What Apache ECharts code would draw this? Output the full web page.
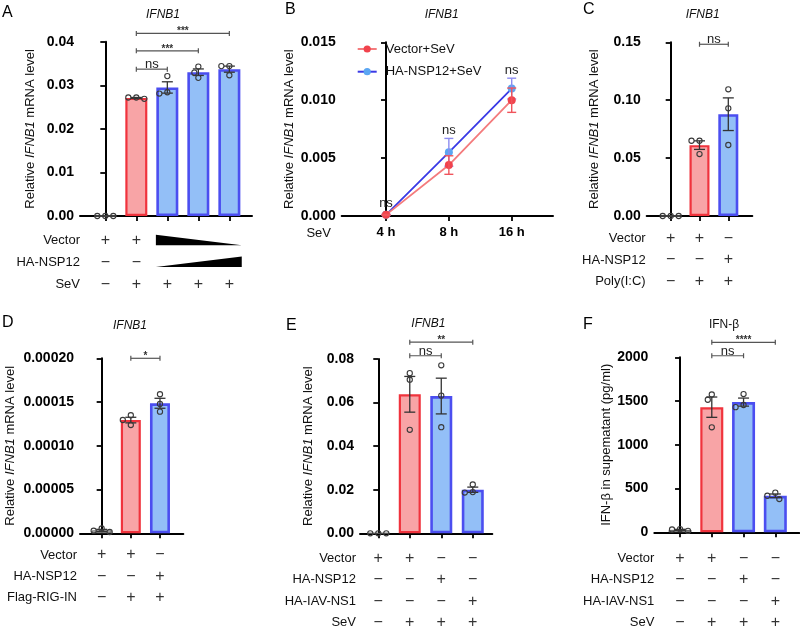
<!DOCTYPE html>
<html><head><meta charset="utf-8">
<script src="https://cdn.jsdelivr.net/npm/echarts@6/dist/echarts.min.js"></script>
<style>html,body{margin:0;padding:0;background:#fff}#c{width:800px;height:629px}</style>
</head><body><div id="c"></div>
<script>
const FONT = '"Liberation Sans", Arial, Helvetica, sans-serif';

// ---------- Panel A ----------
const aMeans = [0, 0.0271, 0.0295, 0.0330, 0.0337];
const aSem = [0, 0.0001, 0.0013, 0.00075, 0.0007];
const aPoints = [[0, 0, 0], [0.0272, 0.0272, 0.0269], [0.0321, 0.0284, 0.0281], [0.0343, 0.0329, 0.0317], [0.0344, 0.0344, 0.0323]];
const aRowLabels = ['Vector', 'HA-NSP12', 'SeV'];
const aRowVector = ['+', '+', '>', '>', '>'];
const aRowNsp12 = ['−', '−', '<', '<', '<'];
const aRowSev = ['−', '+', '+', '+', '+'];
const aBrackets = [[1, 2, 'ns', 0.0337], [1, 3, '***', 0.0379], [1, 4, '***', 0.0419]];

// ---------- Panel B ----------
const bTimes = ['4 h', '8 h', '16 h'];
const bVectorMean = [0.0001, 0.0044, 0.0100];
const bVectorSem = [0.00004, 0.0008, 0.00105];
const bNspMean = [0.0001, 0.0055, 0.0110];
const bNspSem = [0.00004, 0.0012, 0.0009];
const bSig = ['ns', 'ns', 'ns'];

// ---------- Panel C ----------
const cMeans = [0, 0.0612, 0.0879];
const cSem = [0, 0.0037, 0.0141];
const cPoints = [[0, 0, 0], [0.0650, 0.0650, 0.0535], [0.1094, 0.0930, 0.0613]];
const cRowLabels = ['Vector', 'HA-NSP12', 'Poly(I:C)'];
const cRowVector = ['+', '+', '−'];
const cRowNsp12 = ['−', '−', '+'];
const cRowPolyIC = ['−', '+', '+'];
const cBrackets = [[1, 2, 'ns', 0.1483]];

// ---------- Panel D ----------
const dMeans = [0.0000033, 0.0001294, 0.0001486];
const dSem = [0.0000012, 0.0000032, 0.0000057];
const dPoints = [[0.0000055, 0.000003, 0.0000015], [0.0001349, 0.0001295, 0.0001238], [0.0001589, 0.0001478, 0.000139]];
const dRowLabels = ['Vector', 'HA-NSP12', 'Flag-RIG-IN'];
const dRowVector = ['+', '+', '−'];
const dRowNsp12 = ['−', '−', '+'];
const dRowRigIN = ['−', '+', '+'];
const dBrackets = [[1, 2, '*', 0.0002]];

// ---------- Panel E ----------
const eMeans = [0, 0.0638, 0.0630, 0.0200];
const eSem = [0, 0.0082, 0.0082, 0.0012];
const ePoints = [[0, 0, 0], [0.0735, 0.0705, 0.0475], [0.0771, 0.0632, 0.0487], [0.0224, 0.0189, 0.0187]];
const eRowLabels = ['Vector', 'HA-NSP12', 'HA-IAV-NS1', 'SeV'];
const eRowVector = ['+', '+', '−', '−'];
const eRowNsp12 = ['−', '−', '+', '−'];
const eRowNs1 = ['−', '−', '−', '+'];
const eRowSev = ['−', '+', '+', '+'];
const eBrackets = [[1, 2, 'ns', 0.0815], [1, 3, '**', 0.0877]];

// ---------- Panel F ----------
const fMeans = [28, 1430, 1488, 417];
const fSem = [6, 116, 46, 21];
const fPoints = [[36, 32, 16], [1575, 1515, 1200], [1580, 1455, 1430], [453, 418, 380]];
const fRowLabels = ['Vector', 'HA-NSP12', 'HA-IAV-NS1', 'SeV'];
const fRowVector = ['+', '+', '−', '−'];
const fRowNsp12 = ['−', '−', '+', '−'];
const fRowNs1 = ['−', '−', '−', '+'];
const fRowSev = ['−', '+', '+', '+'];
const fBrackets = [[1, 2, 'ns', 2018], [1, 3, '****', 2171]];

// ---------- layout (pixels) ----------
const LAYOUT = [
  {left: 80, top: 41.7, width: 172, height: 174.3, xmin: -0.816, xmax: 4.73, barWidth: 22, nameGap: 43.5, rowStart: 24.7, rowStep: 21.8, labelDx: 0},
  {left: 341.7, top: 42.3, width: 211.3, height: 173.7, xmin: -0.705, xmax: 2.657, nameGap: 46},
  {left: 646.7, top: 42.3, width: 105.6, height: 173.7, xmin: -0.833, xmax: 2.833, barWidth: 20, nameGap: 46, rowStart: 22.3, rowStep: 21.7, labelDx: -1},
  {left: 80, top: 358.3, width: 103.3, height: 175, xmin: -0.743, xmax: 2.80, barWidth: 20, nameGap: 63.5, rowStart: 21.7, rowStep: 21.2, labelDx: -3},
  {left: 360, top: 359, width: 132.3, height: 174.3, xmin: -0.58, xmax: 3.62, barWidth: 22, nameGap: 45, rowStart: 25, rowStep: 21.5, labelDx: -4},
  {left: 654.3, top: 357.3, width: 145, height: 175, xmin: -0.81, xmax: 3.755, barWidth: 23, nameGap: 40, rowStart: 26, rowStep: 21.5, labelDx: 0}
];
const LETTERS = [['A', 2, 12.3], ['B', 285, 9.5], ['C', 583, 9.5], ['D', 2, 322.5], ['E', 286, 325.3], ['F', 583, 325]];
const TITLES = [['IFNB1', 163, 14.7, true], ['IFNB1', 441.7, 14.7, true], ['IFNB1', 702.7, 14.7, true],
  ['IFNB1', 130, 326, true], ['IFNB1', 428.3, 323.8, true], ['IFN-β', 724, 325, false]];

const YAXES = [
  {max: 0.04, interval: 0.01, decimals: 2, name: 'Relative {i|IFNB1} mRNA level'},
  {max: 0.015, interval: 0.005, decimals: 3, name: 'Relative {i|IFNB1} mRNA level'},
  {max: 0.15, interval: 0.05, decimals: 2, name: 'Relative {i|IFNB1} mRNA level'},
  {max: 0.0002, interval: 0.00005, decimals: 5, name: 'Relative {i|IFNB1} mRNA level'},
  {max: 0.08, interval: 0.02, decimals: 2, name: 'Relative {i|IFNB1} mRNA level'},
  {max: 2000, interval: 500, decimals: 0, name: 'IFN-β in supematant (pg/ml)'}
];

const RED_FILL = '#F8A4A6', RED_LINE = '#F0333D', BLUE_FILL = '#93BFF7', BLUE_LINE = '#4B4EF0';

function T(x, y, text, o) {
  o = o || {};
  const align = o.align || 'center', va = o.va || 'middle';
  return {type: 'text', x: x, y: y, z2: 10, style: {
    text: text, fill: o.fill || '#111', fontFamily: FONT, fontSize: o.size || 13,
    fontStyle: o.style || 'normal', fontWeight: o.weight || 'normal',
    align: align, textAlign: align, verticalAlign: va, textVerticalAlign: va}};
}
function L(x1, y1, x2, y2, color, w) {
  return {type: 'line', shape: {x1: x1, y1: y1, x2: x2, y2: y2}, style: {stroke: color || '#333', lineWidth: w || 1.2}};
}
function barStyle(i) {
  if (i === 0) return {color: '#cfcfcf', borderColor: '#555', borderWidth: 1};
  if (i === 1) return {color: RED_FILL, borderColor: RED_LINE, borderWidth: 2.2};
  return {color: BLUE_FILL, borderColor: BLUE_LINE, borderWidth: 2.6};
}

const grids = [], xAxes = [], yAxes = [], series = [];
LAYOUT.forEach((Lo, g) => {
  grids.push({left: Lo.left, top: Lo.top, width: Lo.width, height: Lo.height, containLabel: false});
  const Y = YAXES[g];
  const nTicks = g === 1 ? bTimes.length : [aMeans, null, cMeans, dMeans, eMeans, fMeans][g].length;
  const ticks = Array.from({length: nTicks}, (_, i) => i);
  xAxes.push({
    type: 'value', gridIndex: g, min: Lo.xmin, max: Lo.xmax,
    axisLine: {show: true, onZero: false, lineStyle: {color: '#000', width: 2}},
    axisTick: {show: true, customValues: ticks, length: 5, lineStyle: {color: '#000', width: 1.8}},
    axisLabel: g === 1 ? {show: true, customValues: ticks, formatter: v => bTimes[Math.round(v)],
      color: '#000', fontWeight: 'bold', fontSize: 13, fontFamily: FONT, margin: 10} : {show: false},
    splitLine: {show: false},
    name: g === 1 ? 'SeV' : '', nameLocation: 'start', nameGap: 10.7,
    nameTextStyle: {color: '#111', fontSize: 13, fontFamily: FONT, verticalAlign: 'top', padding: [11, 0, 0, 0]}
  });
  yAxes.push({
    type: 'value', gridIndex: g, min: 0, max: Y.max, interval: Y.interval,
    axisLine: {show: true, lineStyle: {color: '#000', width: 2}},
    axisTick: {show: true, length: 5, lineStyle: {color: '#000', width: 1.8}},
    axisLabel: {color: '#000', fontWeight: 'bold', fontSize: 14, fontFamily: FONT, margin: 6,
      formatter: v => v.toFixed(Y.decimals)},
    splitLine: {show: false},
    name: Y.name, nameLocation: 'middle', nameGap: Lo.nameGap, nameRotate: 90,
    nameTextStyle: {color: '#111', fontSize: 13, fontFamily: FONT,
      rich: {i: {fontStyle: 'italic', fontSize: 13, fontFamily: FONT, color: '#111'}}}
  });
});

function barPanel(g, means, sem, points, rowLabels, rows, brackets) {
  const Lo = LAYOUT[g];
  series.push({
    type: 'bar', xAxisIndex: g, yAxisIndex: g, barWidth: Lo.barWidth, z: 2, silent: true,
    data: means.map((v, i) => ({value: [i, v], itemStyle: barStyle(i)}))
  });
  // error bars (mean ± SEM)
  series.push({
    type: 'custom', xAxisIndex: g, yAxisIndex: g, z: 4, clip: false, silent: true,
    data: means.map((v, i) => [i, v]),
    renderItem: (params, api) => {
      const i = params.dataIndex, m = means[i], e = sem[i];
      const top = api.coord([i, m + e]), bot = api.coord([i, Math.max(0, m - e)]);
      const hw = 5.5;
      return {type: 'group', children: e ? [
        L(top[0], top[1], bot[0], bot[1], '#333', 1.3),
        L(top[0] - hw, top[1], top[0] + hw, top[1], '#333', 1.3),
        L(bot[0] - hw, bot[1], bot[0] + hw, bot[1], '#333', 1.3)] : []};
    }
  });
  // individual replicate dots
  series.push({
    type: 'custom', xAxisIndex: g, yAxisIndex: g, z: 5, clip: false, silent: true,
    data: points.map((p, i) => [i, p[0]]),
    renderItem: (params, api) => {
      const i = params.dataIndex;
      const cx = api.coord([i, 0])[0];
      const placed = [], children = [];
      const cands = [0, -4, 4, -8, 8, -12, 12];
      points[i].forEach(v => {
        const y = api.coord([i, v])[1];
        let dx = 0;
        for (let k = 0; k < cands.length; k++) {
          const c = cands[k];
          if (placed.every(p => Math.hypot(p[0] - c, p[1] - y) >= 6.5)) { dx = c; break; }
        }
        placed.push([dx, y]);
        children.push({type: 'circle', shape: {cx: cx + dx, cy: y, r: 2.6},
          style: {fill: 'none', stroke: '#3a3a3a', lineWidth: 1.1}});
      });
      return {type: 'group', children: children};
    }
  });
  // significance brackets
  series.push({
    type: 'custom', xAxisIndex: g, yAxisIndex: g, z: 6, clip: false, silent: true,
    data: brackets.map(b => [b[0], b[3]]),
    renderItem: (params, api) => {
      const b = brackets[params.dataIndex];
      const p1 = api.coord([b[0], b[3]]), p2 = api.coord([b[1], b[3]]);
      const y = p1[1];
      const star = b[2].indexOf('*') >= 0;
      return {type: 'group', children: [
        L(p1[0], y, p2[0], y, '#555', 1.2),
        L(p1[0], y - 2.5, p1[0], y + 2.5, '#555', 1.2),
        L(p2[0], y - 2.5, p2[0], y + 2.5, '#555', 1.2),
        star ? T((p1[0] + p2[0]) / 2, y + 3, b[2], {va: 'bottom', size: 10, weight: 'bold', fill: '#333'})
             : T((p1[0] + p2[0]) / 2, y + 2, b[2], {va: 'bottom', size: 13, fill: '#222'})
      ]};
    }
  });
  // treatment table below the axis
  series.push({
    type: 'custom', xAxisIndex: g, yAxisIndex: g, z: 6, clip: false, silent: true,
    data: means.map((v, i) => [i, 0]),
    renderItem: (params, api) => {
      const i = params.dataIndex;
      const base = api.coord([i, 0]);
      const children = [];
      rows.forEach((row, r) => {
        const y = base[1] + Lo.rowStart + r * Lo.rowStep;
        const mark = row[i];
        if (mark === '+' || mark === '−') {
          children.push(T(base[0], y, mark, {size: 16, fill: '#333'}));
        } else if ((mark === '>' || mark === '<') && row[i - 1] !== mark) {
          let j = i;
          while (row[j + 1] === mark) j++;
          const x1 = api.coord([i - 0.37, 0])[0], x2 = api.coord([j + 0.4, 0])[0];
          const yb = y + 4.6, yt = yb - 10.5;
          const pts = mark === '>' ? [[x1, yt], [x1, yb], [x2, yb]] : [[x1, yb], [x2, yt], [x2, yb]];
          children.push({type: 'polygon', shape: {points: pts}, style: {fill: '#000'}});
        }
        if (i === 0) {
          const ax = api.coord([Lo.xmin, 0])[0];
          children.push(T(ax + Lo.labelDx, y, rowLabels[r], {align: 'right', size: 13, fill: '#111'}));
        }
      });
      return {type: 'group', children: children};
    }
  });
}

barPanel(0, aMeans, aSem, aPoints, aRowLabels, [aRowVector, aRowNsp12, aRowSev], aBrackets);
barPanel(2, cMeans, cSem, cPoints, cRowLabels, [cRowVector, cRowNsp12, cRowPolyIC], cBrackets);
barPanel(3, dMeans, dSem, dPoints, dRowLabels, [dRowVector, dRowNsp12, dRowRigIN], dBrackets);
barPanel(4, eMeans, eSem, ePoints, eRowLabels, [eRowVector, eRowNsp12, eRowNs1, eRowSev], eBrackets);
barPanel(5, fMeans, fSem, fPoints, fRowLabels, [fRowVector, fRowNsp12, fRowNs1, fRowSev], fBrackets);

// ---------- Panel B: time course ----------
function errSeries(means, sem, color, z) {
  return {
    type: 'custom', xAxisIndex: 1, yAxisIndex: 1, z: z, clip: false, silent: true,
    data: means.map((v, i) => [i, v]),
    renderItem: (params, api) => {
      const i = params.dataIndex, m = means[i], e = sem[i];
      const top = api.coord([i, m + e]), bot = api.coord([i, Math.max(0, m - e)]);
      const hw = 4.5;
      return {type: 'group', children: [
        L(top[0], top[1], bot[0], bot[1], color, 1.4),
        L(top[0] - hw, top[1], top[0] + hw, top[1], color, 1.4),
        L(bot[0] - hw, bot[1], bot[0] + hw, bot[1], color, 1.4)]};
    }
  };
}
series.push({type: 'line', name: 'HA-NSP12+SeV', xAxisIndex: 1, yAxisIndex: 1, z: 2, silent: true,
  data: bNspMean.map((v, i) => [i, v]), symbol: 'circle', symbolSize: 8,
  itemStyle: {color: '#5BA6F2'}, lineStyle: {color: '#3A3AE6', width: 1.8}});
series.push(errSeries(bNspMean, bNspSem, '#8C8CF0', 3));
series.push({type: 'line', name: 'Vector+SeV', xAxisIndex: 1, yAxisIndex: 1, z: 4, silent: true,
  data: bVectorMean.map((v, i) => [i, v]), symbol: 'circle', symbolSize: 8,
  itemStyle: {color: '#F1434D'}, lineStyle: {color: '#F47B7D', width: 1.8}});
series.push(errSeries(bVectorMean, bVectorSem, '#F0545C', 5));
series.push({
  type: 'custom', xAxisIndex: 1, yAxisIndex: 1, z: 6, clip: false, silent: true,
  data: bTimes.map((t, i) => [i, bNspMean[i]]),
  renderItem: (params, api) => {
    const i = params.dataIndex;
    const c = api.coord([i, 0]);
    const tops = [api.coord([i, bNspMean[i] + bNspSem[i]])[1], api.coord([i, bVectorMean[i] + bVectorSem[i]])[1],
      api.coord([i, bNspMean[i]])[1] - 4, api.coord([i, bVectorMean[i]])[1] - 4];
    const y = Math.min.apply(null, tops) - 1;
    return T(c[0], y, bSig[i], {va: 'bottom', size: 13, fill: '#222'});
  }
});

const option = {
  animation: false,
  backgroundColor: '#fff',
  grid: grids, xAxis: xAxes, yAxis: yAxes, series: series,
  legend: {
    data: ['Vector+SeV', 'HA-NSP12+SeV'], orient: 'vertical', left: 356.7, top: 41.5, padding: 0,
    itemWidth: 19, itemHeight: 9, itemGap: 7.7, selectedMode: false,
    textStyle: {fontSize: 13, fontFamily: FONT, color: '#111', lineHeight: 15, padding: [0, 0, 0, 4]}
  },
  graphic: [
    ...LETTERS.map(l => ({type: 'text', x: l[1], y: l[2], style: {text: l[0], fontSize: 16, fontFamily: FONT,
      fill: '#000', align: 'left', textAlign: 'left', verticalAlign: 'middle', textVerticalAlign: 'middle'}})),
    ...TITLES.map(t => ({type: 'text', x: t[1], y: t[2], style: {text: t[0], fontSize: 12, fontFamily: FONT,
      fontStyle: t[3] ? 'italic' : 'normal', fill: '#111', align: 'center', textAlign: 'center',
      verticalAlign: 'middle', textVerticalAlign: 'middle'}}))
  ]
};
const chart = echarts.init(document.getElementById('c'), null, {renderer: 'canvas'});
chart.setOption(option);
</script></body></html>
